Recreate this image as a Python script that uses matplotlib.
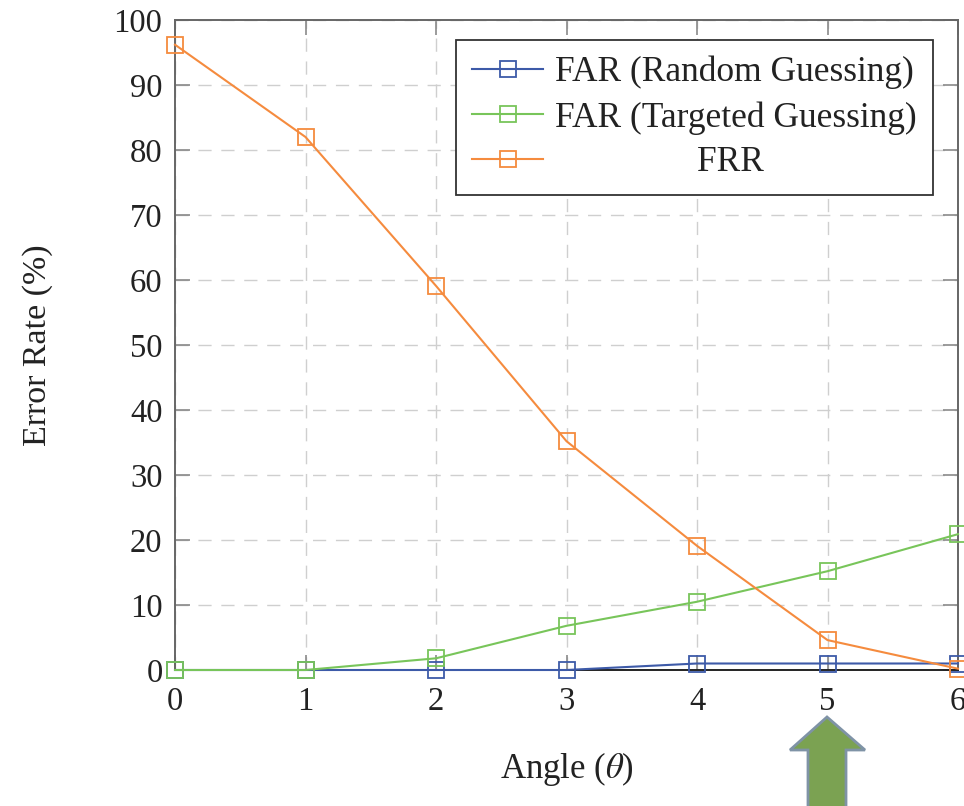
import matplotlib
matplotlib.use("Agg")
import matplotlib.pyplot as plt
from matplotlib.patches import Polygon

angles = [0, 1, 2, 3, 4, 5, 6]
far_random = [0, 0, 0, 0, 1.0, 1.0, 1.0]
far_targeted = [0, 0, 1.8, 6.8, 10.5, 15.2, 20.9]
frr = [96.2, 82.0, 59.1, 35.2, 19.1, 4.6, 0.2]
labels = ["FAR (Random Guessing)", "FAR (Targeted Guessing)", "FRR"]
colors = ["#3d5aa8", "#78c55a", "#f58b3e"]
yticks = list(range(0, 101, 10))

plt.rcParams['font.family'] = ['Liberation Serif', 'DejaVu Serif']
plt.rcParams['mathtext.fontset'] = 'stix'
W, H = 964, 806
fig = plt.figure(figsize=(W / 100, H / 100), dpi=100)
ax = fig.add_axes([175 / W, (H - 670) / H, (958 - 175) / W, (670 - 20) / H])

for ys, lab, c in zip([far_random, far_targeted, frr], labels, colors):
    ax.plot(angles, ys, color=c, lw=1.5, marker='s', markersize=12,
            markerfacecolor='none', markeredgecolor=c, markeredgewidth=1.3,
            label=lab, clip_on=False, zorder=3)

ax.set_xlim(0, 6)
ax.set_ylim(0, 100)
ax.set_xticks(angles)
ax.set_yticks(yticks)
ax.grid(True, ls=(0, (9.5, 7)), color='#cfcfcf', lw=1.0)
ax.tick_params(direction='in', length=11, width=1.2, color='#8a8a8a', labelsize=23.5,
               labelcolor='#222222', right=True, top=True)
ax.tick_params(axis='x', pad=12)
ax.tick_params(axis='y', pad=9)
for s in ax.spines.values():
    s.set_color('#666666')
    s.set_linewidth(1.4)
ax.spines['bottom'].set_color('#222222')

ax.set_xlabel(r"Angle ($\theta$)", fontsize=25, color='#222222', labelpad=24)
ax.set_ylabel("Error Rate (%)", fontsize=24.5, color='#222222', labelpad=44)

leg_labels = list(labels)
leg_labels[2] = " " * 16 + labels[2]
handles = ax.get_lines()
leg = ax.legend(handles, leg_labels, loc='upper right',
                bbox_to_anchor=(933 / W, 1 - 40 / H), bbox_transform=fig.transFigure,
                borderaxespad=0, fontsize=25.5, frameon=True, fancybox=False,
                edgecolor='#333333', handlelength=2.0, handletextpad=0.35,
                borderpad=0.45, labelspacing=0.33)
leg.get_frame().set_linewidth(1.3)
leg.get_frame().set_alpha(1)
for t in leg.get_texts():
    t.set_color('#222222')

# green arrow pointing at angle 5
pts = [(827, 717), (865, 750), (846, 750), (846, 812), (808, 812), (808, 750), (790, 750)]
arrow = Polygon([(x / W, 1 - y / H) for x, y in pts], closed=True, transform=fig.transFigure,
                facecolor='#7ba252', edgecolor='#7f93a6', lw=2)
fig.patches.append(arrow)

fig.savefig("out.png", dpi=100)
